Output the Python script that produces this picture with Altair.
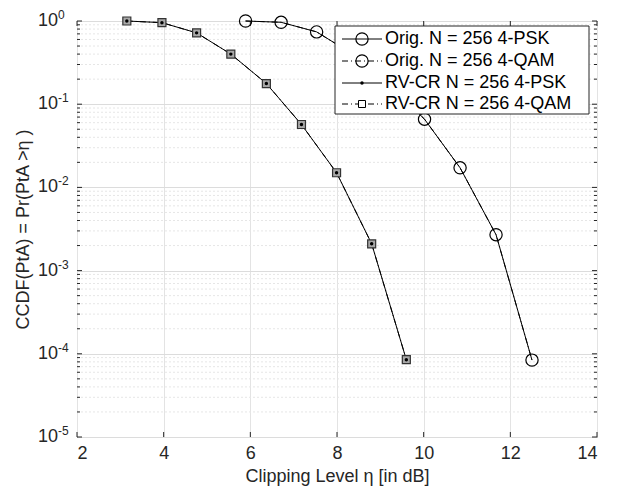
import altair as alt
import pandas as pd

W, H = 520, 416
FONT = "Liberation Sans"

# ---- data ----
x_ticks = [2, 4, 6, 8, 10, 12, 14]
y_exps = [-5, -4, -3, -2, -1, 0]
orig_x = [5.89, 6.71, 7.53, 8.36, 9.19, 10.02, 10.84, 11.67, 12.50]
orig_y = [1.0, 0.965, 0.74, 0.40, 0.178, 0.066, 0.0172, 0.0027, 8.4e-5]
rv_x = [3.15, 3.96, 4.76, 5.55, 6.37, 7.18, 7.99, 8.80, 9.60]
rv_y = [1.0, 0.955, 0.72, 0.40, 0.177, 0.057, 0.015, 0.0021, 8.5e-5]
legend_labels = ["Orig. N = 256 4-PSK", "Orig. N = 256 4-QAM",
                 "RV-CR N = 256 4-PSK", "RV-CR N = 256 4-QAM"]

decades = [10.0 ** e for e in y_exps]
minor = [m * 10.0 ** k for k in range(-5, 0) for m in range(2, 10)]

orig = pd.DataFrame({"x": orig_x, "y": orig_y})
rv = pd.DataFrame({"x": rv_x, "y": rv_y})
xt = pd.DataFrame({"x": x_ticks})
yt = pd.DataFrame({"y": decades, "e": [str(e) for e in y_exps]})
ym = pd.DataFrame({"y": minor})
dummy = pd.DataFrame({"a": [0]})

xs = alt.Scale(domain=[2, 14], nice=False, zero=False)
ys = alt.Scale(type="log", domain=[1e-5, 1], nice=False)

xa = alt.Axis(values=x_ticks, grid=True, gridColor="#e3e3e3", ticks=False, domain=False,
              labelFontSize=18, labelFont=FONT, labelColor="#262626", labelPadding=7,
              title="Clipping Level η [in dB]", titleFontSize=18, titleFont=FONT,
              titleFontWeight="normal", titleColor="#262626", titlePadding=5, format="d")
ya = alt.Axis(values=decades, grid=True, gridColor="#dcdcdc", ticks=False, domain=False,
              labels=False, title="CCDF(PtA) = Pr(PtA >η )", titleFontSize=18, titleFont=FONT,
              titleFontWeight="normal", titleColor="#262626", titleX=-54, titleY=H / 2,
              titleAngle=-90, titleAlign="center", titleBaseline="middle")

X = lambda f="x": alt.X(f"{f}:Q", scale=xs, axis=xa)
Y = lambda f="y": alt.Y(f"{f}:Q", scale=ys, axis=ya)

layers = []
# minor grid
layers.append(alt.Chart(ym).mark_rule(color="#e6e6e6", strokeDash=[2, 2], strokeWidth=1)
              .encode(y=Y(), x=alt.value(0), x2=alt.value(W)))
# ticks (inward)
layers.append(alt.Chart(xt).mark_rule(color="#262626").encode(x=X(), y=alt.value(H), y2=alt.value(H - 5)))
layers.append(alt.Chart(xt).mark_rule(color="#262626").encode(x=X(), y=alt.value(0), y2=alt.value(5)))
layers.append(alt.Chart(yt).mark_rule(color="#262626").encode(y=Y(), x=alt.value(0), x2=alt.value(5)))
layers.append(alt.Chart(yt).mark_rule(color="#262626").encode(y=Y(), x=alt.value(W), x2=alt.value(W - 5)))
layers.append(alt.Chart(ym).mark_rule(color="#262626").encode(y=Y(), x=alt.value(0), x2=alt.value(3)))
layers.append(alt.Chart(ym).mark_rule(color="#262626").encode(y=Y(), x=alt.value(W), x2=alt.value(W - 3)))
# y tick labels 10^e
layers.append(alt.Chart(yt).mark_text(align="right", baseline="middle", fontSize=18, font=FONT,
                                      color="#262626", clip=False)
              .encode(y=Y(), x=alt.value(-19), text=alt.value("10")))
layers.append(alt.Chart(yt).mark_text(align="left", baseline="middle", fontSize=12, font=FONT,
                                      color="#262626", dy=-6, clip=False)
              .encode(y=Y(), x=alt.value(-19), text="e:N"))

# data series
DD = [6, 3, 1, 3]
layers.append(alt.Chart(orig).mark_line(color="black", strokeWidth=1).encode(x=X(), y=Y()))
layers.append(alt.Chart(orig).mark_line(color="black", strokeWidth=1, strokeDash=DD).encode(x=X(), y=Y()))
layers.append(alt.Chart(orig).mark_point(shape="circle", size=150, color="black", filled=False,
                                         strokeWidth=1.2, opacity=1).encode(x=X(), y=Y()))
layers.append(alt.Chart(rv).mark_line(color="black", strokeWidth=1).encode(x=X(), y=Y()))
layers.append(alt.Chart(rv).mark_line(color="black", strokeWidth=1, strokeDash=DD).encode(x=X(), y=Y()))
layers.append(alt.Chart(rv).mark_point(shape="square", size=64, fill="#a8a8a8", stroke="#333333",
                                       filled=True, strokeWidth=1.2, opacity=1).encode(x=X(), y=Y()))
layers.append(alt.Chart(rv).mark_point(shape="circle", size=12, color="black", filled=True,
                                       opacity=1).encode(x=X(), y=Y()))

# legend
LX1, LX2, LY1, LY2 = 258, 512, 5, 93
rows = [18, 40, 62, 83]
layers.append(alt.Chart(dummy).mark_rect(fill="white", stroke="#262626", strokeWidth=1)
              .encode(x=alt.value(LX1), x2=alt.value(LX2), y=alt.value(LY1), y2=alt.value(LY2)))
for i, (lab, ry) in enumerate(zip(legend_labels, rows)):
    kw = {"strokeDash": DD} if i in (1, 3) else {}
    layers.append(alt.Chart(dummy).mark_rule(color="black", strokeWidth=1, **kw)
                  .encode(x=alt.value(265), x2=alt.value(305), y=alt.value(ry)))
    if i in (0, 1):
        layers.append(alt.Chart(dummy).mark_point(shape="circle", size=150, color="black",
                                                  filled=False, strokeWidth=1.2, opacity=1)
                      .encode(x=alt.value(285), y=alt.value(ry)))
    elif i == 2:
        layers.append(alt.Chart(dummy).mark_point(shape="circle", size=12, color="black",
                                                  filled=True, opacity=1)
                      .encode(x=alt.value(285), y=alt.value(ry)))
    else:
        layers.append(alt.Chart(dummy).mark_point(shape="square", size=49, fill="white",
                                                  stroke="black", filled=True, strokeWidth=1, opacity=1)
                      .encode(x=alt.value(285), y=alt.value(ry)))
    layers.append(alt.Chart(dummy).mark_text(align="left", baseline="middle", fontSize=18,
                                            font=FONT, color="black")
                  .encode(x=alt.value(308), y=alt.value(ry), text=alt.value(lab)))

chart = alt.layer(*layers).properties(
    width=W, height=H,
    autosize=alt.AutoSizeParams(type="none"),
    padding={"left": 69, "top": 13, "right": 17, "bottom": 51},
    background="white",
).configure_view(stroke="#262626", strokeWidth=1)

chart.save("out.html", embed_options={"renderer": "svg", "actions": False})
